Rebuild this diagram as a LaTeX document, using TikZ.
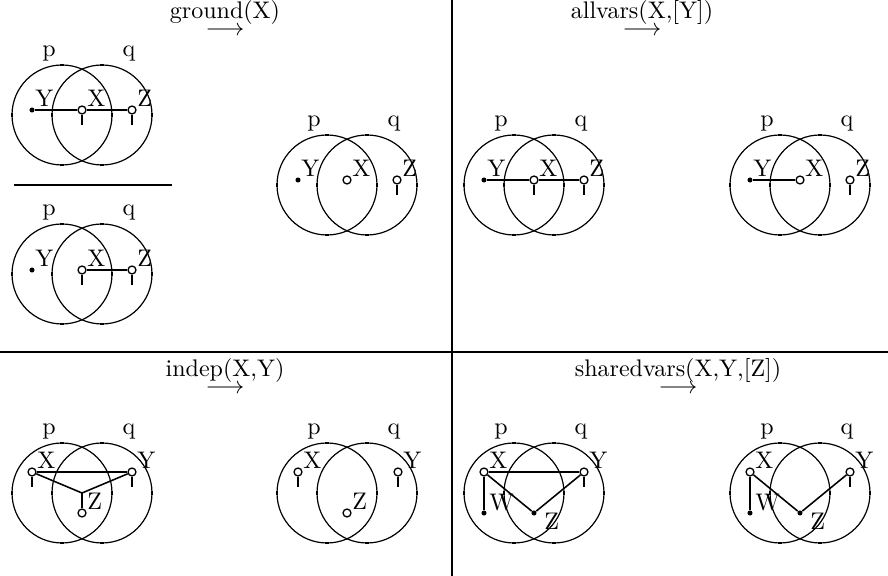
\documentclass[tikz,border=0pt]{standalone}
\usetikzlibrary{calc}

\begin{document}
\begin{tikzpicture}[
    x=0.4167pt, y=-0.4167pt,
    every node/.style={inner sep=0pt},
    ring/.style={line width=0.5pt},
    ringtick/.style={line width=1pt},
    opendot/.style={circle, draw, fill=white, line width=0.55pt, minimum size=3.3pt},
    soliddot/.style={circle, fill=black, minimum size=2.1pt},
    bond/.style={line width=1.2pt},
    link/.style={line width=0.65pt},
    stemline/.style={line width=1.2pt},
    lbl/.style={anchor=south west},
    divider/.style={line width=0.85pt},
]

\useasboundingbox (0,0) rectangle (888,576);

% two overlapping sets p and q around (#2,#3)
\def\vennpair#1#2#3{%
    \foreach \cx in {#2-20,#2+20} {
        \draw[ring] (\cx,#3) circle (50);
        \draw[ringtick] ({\cx-50},{#3-2}) -- ({\cx-50},{#3+2});
        \draw[ringtick] ({\cx+50},{#3-2}) -- ({\cx+50},{#3+2});
        \draw[ringtick] ({\cx-2},{#3-50}) -- ({\cx+2},{#3-50});
        \draw[ringtick] ({\cx-2},{#3+50}) -- ({\cx+2},{#3+50});
    }
    \node[anchor=base] (#1p) at ({#2-33},{#3-58}) {p};
    \node[anchor=base] (#1q) at ({#2+47},{#3-58}) {q};
}

% ============================================================
% FRAME
% ============================================================
\draw[divider] (452,0) -- (452,576);
\draw[divider] (0,352) -- (888,352);
\draw[divider] (14,185) -- (172,185);

% ============================================================
% TITLES
% ============================================================
\node[anchor=base] (tground) at (225,36)
    {$\stackrel{\mbox{ground(X)}}{\longrightarrow}$};
\node[anchor=base] (tallvars) at (642,36)
    {$\stackrel{\mbox{allvars(X,[Y])}}{\longrightarrow}$};
\node[anchor=base] (tindep) at (225,394)
    {$\stackrel{\mbox{indep(X,Y)}}{\longrightarrow}$};
\node[anchor=base] (tshared) at (678,394)
    {$\stackrel{\mbox{sharedvars(X,Y,[Z])}}{\longrightarrow}$};

% ============================================================
% GROUND: two inputs, one result
% ============================================================
\vennpair{a}{82}{115}
\node[soliddot] (aY) at (32,110) {};
\node[opendot] (aX) at (82,110) {};
\node[opendot] (aZ) at (132,110) {};
\draw[bond] (aY) -- (aX) -- (aZ);
\draw[stemline] (aX.south) -- ++(0,10);
\draw[stemline] (aZ.south) -- ++(0,10);
\node[lbl] (aYl) at ($(aY)+(3,-3)$) {Y};
\node[lbl] (aXl) at ($(aX)+(5,-3)$) {X};
\node[lbl] (aZl) at ($(aZ)+(5,-3)$) {Z};

\vennpair{b}{82}{274}
\node[soliddot] (bY) at (32,270) {};
\node[opendot] (bX) at (82,270) {};
\node[opendot] (bZ) at (132,270) {};
\draw[bond] (bX) -- (bZ);
\draw[stemline] (bX.south) -- ++(0,10);
\draw[stemline] (bZ.south) -- ++(0,10);
\node[lbl] (bYl) at ($(bY)+(3,-3)$) {Y};
\node[lbl] (bXl) at ($(bX)+(5,-3)$) {X};
\node[lbl] (bZl) at ($(bZ)+(5,-3)$) {Z};

\vennpair{c}{347}{185}
\node[soliddot] (cY) at (298,180) {};
\node[opendot] (cX) at (347,180) {};
\node[opendot] (cZ) at (397,180) {};
\draw[stemline] (cZ.south) -- ++(0,10);
\node[lbl] (cYl) at ($(cY)+(3,-3)$) {Y};
\node[lbl] (cXl) at ($(cX)+(5,-3)$) {X};
\node[lbl] (cZl) at ($(cZ)+(5,-3)$) {Z};

% ============================================================
% ALLVARS
% ============================================================
\vennpair{d}{534}{185}
\node[soliddot] (dY) at (484,180) {};
\node[opendot] (dX) at (534,180) {};
\node[opendot] (dZ) at (584,180) {};
\draw[bond] (dY) -- (dX) -- (dZ);
\draw[stemline] (dX.south) -- ++(0,10);
\draw[stemline] (dZ.south) -- ++(0,10);
\node[lbl] (dYl) at ($(dY)+(3,-3)$) {Y};
\node[lbl] (dXl) at ($(dX)+(5,-3)$) {X};
\node[lbl] (dZl) at ($(dZ)+(5,-3)$) {Z};

\vennpair{e}{800}{185}
\node[soliddot] (eY) at (750,180) {};
\node[opendot] (eX) at (800,180) {};
\node[opendot] (eZ) at (850,180) {};
\draw[bond] (eY) -- (eX);
\draw[stemline] (eZ.south) -- ++(0,10);
\node[lbl] (eYl) at ($(eY)+(3,-3)$) {Y};
\node[lbl] (eXl) at ($(eX)+(5,-3)$) {X};
\node[lbl] (eZl) at ($(eZ)+(5,-3)$) {Z};

% ============================================================
% INDEP
% ============================================================
\vennpair{f}{82}{493}
\node[opendot] (fX) at (32,472) {};
\node[opendot] (fY) at (132,472) {};
\node[opendot] (fZ) at (82,513) {};
\coordinate (fJ) at (82,493);
\draw[bond] (fX) -- (fY);
\draw[link] (fX) -- (fJ) -- (fY);
\draw[stemline] (fZ.north) -- (fJ);
\draw[stemline] (fX.south) -- ++(0,10);
\draw[stemline] (fY.south) -- ++(0,10);
\node[lbl] (fXl) at ($(fX)+(5,-3)$) {X};
\node[lbl] (fYl) at ($(fY)+(5,-3)$) {Y};
\node[lbl] (fZl) at ($(fZ)+(5,-3)$) {Z};

\vennpair{g}{347}{493}
\node[opendot] (gX) at (298,472) {};
\node[opendot] (gY) at (398,472) {};
\node[opendot] (gZ) at (347,513) {};
\draw[stemline] (gX.south) -- ++(0,10);
\draw[stemline] (gY.south) -- ++(0,10);
\node[lbl] (gXl) at ($(gX)+(5,-3)$) {X};
\node[lbl] (gYl) at ($(gY)+(5,-3)$) {Y};
\node[lbl] (gZl) at ($(gZ)+(5,-3)$) {Z};

% ============================================================
% SHAREDVARS
% ============================================================
\vennpair{h}{534}{493}
\node[opendot] (hX) at (484,472) {};
\node[opendot] (hY) at (584,472) {};
\node[soliddot] (hW) at (484,513) {};
\node[soliddot] (hZ) at (534,513) {};
\draw[bond] (hX) -- (hY);
\draw[bond] (hX) -- (hW);
\draw[link] (hX) -- (hZ) -- (hY);
\draw[stemline] (hY.south) -- ++(0,10);
\node[lbl] (hXl) at ($(hX)+(5,-3)$) {X};
\node[lbl] (hYl) at ($(hY)+(5,-3)$) {Y};
\node[lbl] (hWl) at ($(hW)+(5,-1)$) {W};
\node[anchor=north west] (hZl) at ($(hZ)+(10,0)$) {Z};

\vennpair{i}{800}{493}
\node[opendot] (iX) at (750,472) {};
\node[opendot] (iY) at (850,472) {};
\node[soliddot] (iW) at (750,513) {};
\node[soliddot] (iZ) at (800,513) {};
\draw[bond] (iX) -- (iW);
\draw[link] (iX) -- (iZ) -- (iY);
\draw[stemline] (iY.south) -- ++(0,10);
\node[lbl] (iXl) at ($(iX)+(5,-3)$) {X};
\node[lbl] (iYl) at ($(iY)+(5,-3)$) {Y};
\node[lbl] (iWl) at ($(iW)+(5,-1)$) {W};
\node[anchor=north west] (iZl) at ($(iZ)+(10,0)$) {Z};

\end{tikzpicture}
\end{document}
